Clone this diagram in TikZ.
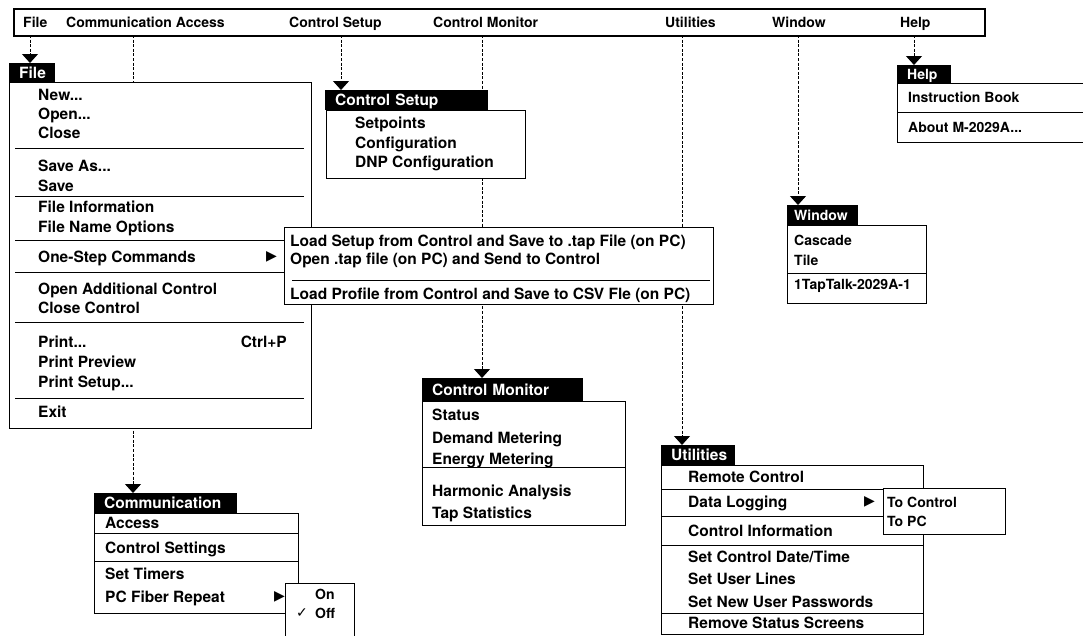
\documentclass[tikz,border=0pt]{standalone}
\usepackage{fontspec}
\setmainfont{TeX Gyre Heros}
\newfontfamily\symfont{DejaVu Sans}
\usetikzlibrary{arrows.meta}
\pgfdeclarelayer{bg}
\pgfsetlayers{bg,main}
\tikzset{
  big/.style={font=\fontsize{15.5}{18}\selectfont\bfseries, text height=11pt, text depth=0pt},
  small/.style={font=\fontsize{14}{17}\selectfont\bfseries, text height=10pt, text depth=0pt},
  itm/.style={anchor=west, inner sep=0pt, big},
  sitm/.style={anchor=west, inner sep=0pt, small},
  hdr/.style={fill=black, text=white, anchor=north west, inner xsep=10pt, inner ysep=0pt, align=left},
  menubox/.style={draw=black, fill=white, line width=1.1pt, anchor=north west, inner sep=0pt},
  sep/.style={line width=0.9pt},
  conn/.style={line width=0.9pt, dash pattern=on 3pt off 1.6pt, -{Triangle[width=16pt,length=9pt]}},
  tri/.style={anchor=west, inner sep=0pt, font=\symfont\fontsize{14}{15}\selectfont}
}
\begin{document}
\begin{tikzpicture}[x=1pt,y=-1pt]
\useasboundingbox (0,0) rectangle (1083,635);
\clip (0,0) rectangle (1083,635);
% menu bar
\node[draw, line width=1.5pt, anchor=north west, minimum width=971, minimum height=27, inner sep=0pt] (bar) at (13,8) {};
\node[sitm] (bFile) at (23,22) {File};
\node[sitm] (bComm) at (66,22) {Communication Access};
\node[sitm] (bSetup) at (289,22) {Control Setup};
\node[sitm] (bMon) at (433,22) {Control Monitor};
\node[sitm] (bUtil) at (665,22) {Utilities};
\node[sitm] (bWin) at (772,22) {Window};
\node[sitm] (bHelp) at (900,22) {Help};
\coordinate (cF) at (30,35);
\coordinate (cC) at (133,35);
\coordinate (cS) at (341,35);
\coordinate (cM) at (482,35);
\coordinate (cU) at (682,35);
\coordinate (cW) at (798,35);
\coordinate (cH) at (914,35);

% File menu
\node[hdr, big, text width=26, minimum height=19] (fileH) at (9,63) {File};
\node[menubox, minimum width=302, minimum height=346] (fileM) at (9,82) {};
\node[itm] (f1) at (38,95) {New...};
\node[itm] (f2) at (38,114) {Open...};
\node[itm] (f3) at (38,133) {Close};
\node[itm] (f4) at (38,166) {Save As...};
\node[itm] (f5) at (38,186) {Save};
\node[itm] (f6) at (38,207) {File Information};
\node[itm] (f7) at (38,227) {File Name Options};
\node[itm] (f8) at (38,257) {One-Step Commands};
\node[tri] (f8t) at (266,257) {▶};
\node[itm] (f9) at (38,289) {Open Additional Control};
\node[itm] (f10) at (38,308) {Close Control};
\node[itm] (f11) at (38,342) {Print...};
\node[itm, anchor=east] (f11k) at (287,342) {Ctrl+P};
\node[itm] (f12) at (38,362) {Print Preview};
\node[itm] (f13) at (38,382) {Print Setup...};
\node[itm] (f14) at (38,412) {Exit};
\foreach \yy in {148,196,240,272,322,398}
  \draw[sep] (15,\yy) -- (304,\yy);

% One-step submenu
\node[menubox, minimum width=429, minimum height=77] (oneM) at (284,227) {};
\node[itm] (o1) at (290,241) {Load Setup from Control and Save to .tap File (on PC)};
\node[itm] (o2) at (290,259) {Open .tap file (on PC) and Send to Control};
\draw[sep] (292,280) -- (710,280);
\node[itm] (o3) at (290,294) {Load Profile from Control and Save to CSV Fle (on PC)};

% Control Setup
\node[hdr, big, text width=143, minimum height=20] (setupH) at (325,90) {Control Setup};
\node[menubox, minimum width=199, minimum height=68] (setupM) at (326,110) {};
\node[itm] (s1) at (355,123) {Setpoints};
\node[itm] (s2) at (355,143) {Configuration};
\node[itm] (s3) at (355,162) {DNP Configuration};

% Help
\node[hdr, small, text width=34, minimum height=18] (helpH) at (897,65) {Help};
\node[menubox, minimum width=193, minimum height=59] (helpM) at (897,83) {};
\draw[sep] (897,112) -- (1090,112);
\node[sitm] (h1) at (908,97) {Instruction Book};
\node[sitm] (h2) at (908,127) {About M-2029A...};

% Window
\node[hdr, small, text width=57, minimum height=20, inner xsep=7pt] (winH) at (787,205) {Window};
\node[menubox, minimum width=139, minimum height=78] (winM) at (787,225) {};
\node[sitm] (w1) at (794,240) {Cascade};
\node[sitm] (w2) at (794,260) {Tile};
\draw[sep] (787,273) -- (926,273);
\node[sitm] (w3) at (794,284) {1TapTalk-2029A-1};

% Control Monitor
\node[hdr, big, text width=141, minimum height=23] (monH) at (422,378) {Control Monitor};
\node[menubox, minimum width=203, minimum height=124] (monM) at (422,401) {};
\node[itm] (m1) at (432,415) {Status};
\node[itm] (m2) at (432,438) {Demand Metering};
\node[itm] (m3) at (432,459) {Energy Metering};
\draw[sep] (422,467) -- (625,467);
\node[itm] (m4) at (432,491) {Harmonic Analysis};
\node[itm] (m5) at (432,513) {Tap Statistics};

% Communication
\node[hdr, big, text width=123, minimum height=20] (commH) at (94,493) {Communication};
\node[menubox, minimum width=204, minimum height=100] (commM) at (94,513) {};
\node[itm] (c1) at (105,523) {Access};
\draw[sep] (94,533) -- (298,533);
\node[itm] (c2) at (105,548) {Control Settings};
\draw[sep] (94,561) -- (298,561);
\node[itm] (c3) at (105,574) {Set Timers};
\node[itm] (c4) at (105,597) {PC Fiber Repeat};
\node[tri] (c4t) at (274,597) {▶};
\node[menubox, minimum width=69, minimum height=62] (fibM) at (285,583) {};
\node[sitm] (p1) at (315,594) {On};
\node[tri] (p2c) at (296,613) {✓};
\node[sitm] (p2) at (315,613) {Off};

% Utilities
\node[hdr, big, text width=54, minimum height=20] (utilH) at (661,445) {Utilities};
\node[menubox, minimum width=262, minimum height=169] (utilM) at (661,465) {};
\foreach \yy in {489,516,545,613}
  \draw[sep] (661,\yy) -- (923,\yy);
\node[itm] (u1) at (688,477) {Remote Control};
\node[itm] (u2) at (688,502) {Data Logging};
\node[tri] (u2t) at (864,502) {▶};
\node[itm] (u3) at (688,531) {Control Information};
\node[itm] (u4) at (688,557) {Set Control Date/Time};
\node[itm] (u5) at (688,579) {Set User Lines};
\node[itm] (u6) at (688,602) {Set New User Passwords};
\node[itm] (u7) at (688,623) {Remove Status Screens};
\node[menubox, minimum width=122, minimum height=46] (logM) at (883,488) {};
\node[sitm] (l1) at (887,502) {To Control};
\node[sitm] (l2) at (887,521) {To PC};

% connectors
\begin{pgfonlayer}{bg}
\draw[conn] (cF) -- (cF |- fileH.north);
\draw[conn] (cC) -- (cC |- commH.north);
\draw[conn] (cS) -- (cS |- setupH.north);
\draw[conn] (cM) -- (cM |- monH.north);
\draw[conn] (cU) -- (cU |- utilH.north);
\draw[conn] (cW) -- (cW |- winH.north);
\draw[conn] (cH) -- (cH |- helpH.north);
\end{pgfonlayer}
\end{tikzpicture}
\end{document}
